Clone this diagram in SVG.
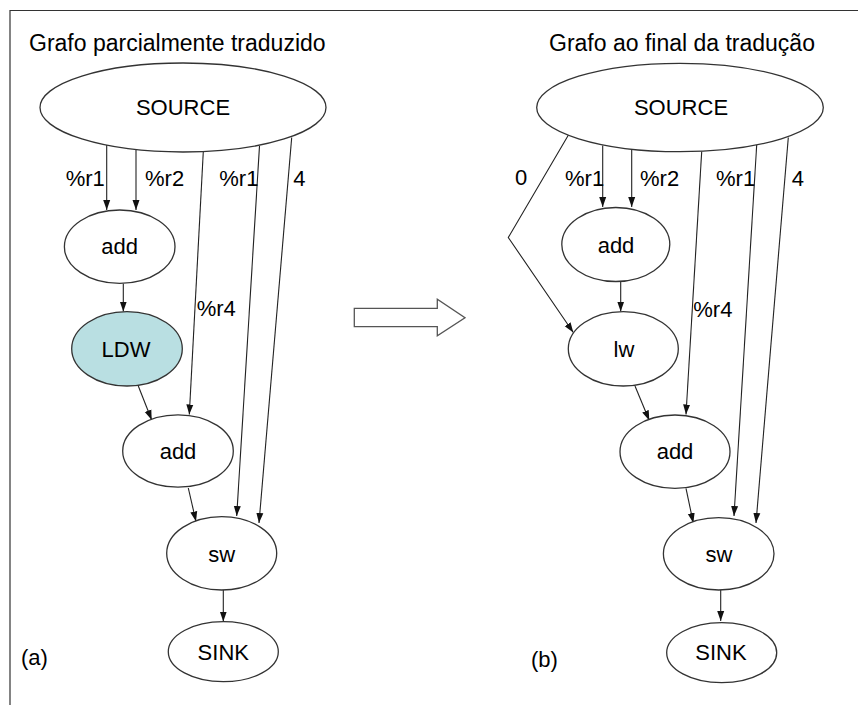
<svg xmlns="http://www.w3.org/2000/svg" width="858" height="705" viewBox="0 0 858 705">
<style>
text{font-family:"Liberation Sans",Arial,sans-serif;font-size:22px;fill:#000}
.t{font-size:23px}
.c{text-anchor:middle}
.n{fill:#fff;stroke:#333;stroke-width:1.3}
.e{fill:none;stroke:#222;stroke-width:1.1;marker-end:url(#ah)}
</style>
<defs>
<marker id="ah" markerUnits="userSpaceOnUse" markerWidth="10" markerHeight="10" viewBox="0 0 10 10" refX="10" refY="5" orient="auto">
<path d="M0,1.5 L10,5 L0,8.5 Z" fill="#111"/>
</marker>
</defs>
<rect width="858" height="705" fill="#fff"/>
<path d="M10,705 V10.5 H858" fill="none" stroke="#333" stroke-width="1.2"/>
<text class="t" x="29" y="51">Grafo parcialmente traduzido</text>
<text class="t" x="549" y="51">Grafo ao final da tradução</text>
<text x="21" y="665">(a)</text>
<text x="531" y="667">(b)</text>
<polygon id="bigarrow" points="354.3,308.3 437.3,308.3 437.3,299.3 465,317.7 437.3,335.7 437.3,326.7 354.3,326.7" fill="#fff" stroke="#555" stroke-width="1.3"/>
<g id="edges">
<line class="e" x1="106.7" y1="145" x2="106.7" y2="210"/>
<line class="e" x1="136" y1="149.5" x2="136" y2="210"/>
<line class="e" x1="123.3" y1="283.5" x2="123.3" y2="311.5"/>
<line class="e" x1="203.3" y1="151.5" x2="189.3" y2="414.5"/>
<line class="e" x1="259.5" y1="146" x2="236.7" y2="516"/>
<line class="e" x1="291.7" y1="137.5" x2="259" y2="523"/>
<line class="e" x1="138.3" y1="386" x2="151.7" y2="420"/>
<line class="e" x1="188.3" y1="488" x2="196" y2="521.5"/>
<line class="e" x1="223.3" y1="590" x2="223.3" y2="621.5"/>
<line class="e" x1="602.7" y1="145.5" x2="602.7" y2="207"/>
<line class="e" x1="631.7" y1="149.5" x2="631.7" y2="207"/>
<line class="e" x1="620.7" y1="281.5" x2="620.7" y2="311.5"/>
<polyline class="e" points="569.3,133.5 508.3,237.5 573.3,332.5"/>
<line class="e" x1="701.7" y1="151.5" x2="686" y2="414.5"/>
<line class="e" x1="756.7" y1="145" x2="734" y2="516"/>
<line class="e" x1="788.3" y1="137.5" x2="756" y2="523"/>
<line class="e" x1="635" y1="386" x2="649.3" y2="420.5"/>
<line class="e" x1="686" y1="488.3" x2="693.3" y2="523"/>
<line class="e" x1="720.7" y1="590" x2="720.7" y2="621"/>
</g>
<g id="edge-labels">
<text x="65.7" y="186">%r1</text>
<text x="145" y="186">%r2</text>
<text x="219.3" y="186">%r1</text>
<text x="293.3" y="186">4</text>
<text x="196.7" y="316">%r4</text>
<text x="515" y="185">0</text>
<text x="565" y="186">%r1</text>
<text x="640" y="186">%r2</text>
<text x="716" y="186">%r1</text>
<text x="791.7" y="186">4</text>
<text x="693.3" y="316.5">%r4</text>
</g>
<g id="a-source"><ellipse class="n" cx="183" cy="107.5" rx="143" ry="44.5"/><text class="c" x="183" y="115">SOURCE</text></g>
<g id="a-add1"><ellipse class="n" cx="119.7" cy="246.7" rx="55.3" ry="36.7"/><text class="c" x="119.7" y="254">add</text></g>
<g id="a-ldw"><ellipse class="n" cx="127" cy="348.8" rx="55.3" ry="37.2" style="fill:#b9dfe2"/><text class="c" x="126" y="357">LDW</text></g>
<g id="a-add2"><ellipse class="n" cx="178" cy="451" rx="55.3" ry="36.2"/><text class="c" x="178" y="459">add</text></g>
<g id="a-sw"><ellipse class="n" cx="221.7" cy="553.3" rx="55" ry="36.7"/><text class="c" x="221.7" y="562">sw</text></g>
<g id="a-sink"><ellipse class="n" cx="223.3" cy="651.7" rx="55" ry="30"/><text class="c" x="223.3" y="660">SINK</text></g>
<g id="b-source"><ellipse class="n" cx="680" cy="107.5" rx="143.3" ry="44.2"/><text class="c" x="681" y="115">SOURCE</text></g>
<g id="b-add1"><ellipse class="n" cx="615.8" cy="244.5" rx="54" ry="37"/><text class="c" x="616" y="253">add</text></g>
<g id="b-lw"><ellipse class="n" cx="623.3" cy="348.8" rx="55" ry="37.2"/><text class="c" x="624" y="357">lw</text></g>
<g id="b-add2"><ellipse class="n" cx="675" cy="451.7" rx="55" ry="36.7"/><text class="c" x="675" y="459">add</text></g>
<g id="b-sw"><ellipse class="n" cx="718.7" cy="553.8" rx="55.3" ry="36.2"/><text class="c" x="719" y="562">sw</text></g>
<g id="b-sink"><ellipse class="n" cx="721.7" cy="652.7" rx="55" ry="30"/><text class="c" x="721" y="660">SINK</text></g>
</svg>
